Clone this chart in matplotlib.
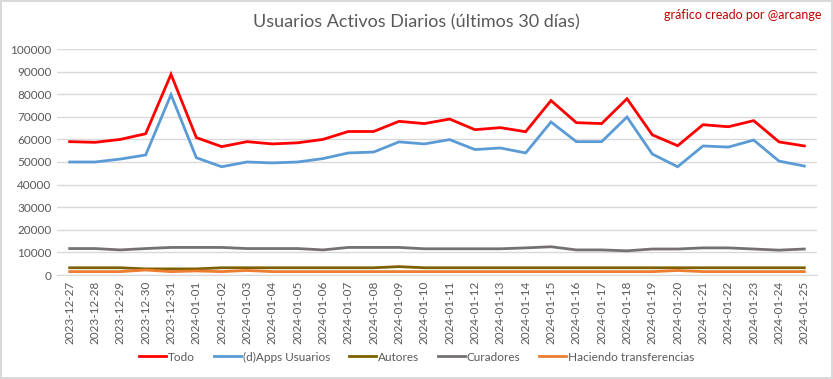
import matplotlib
matplotlib.use("Agg")
import matplotlib.pyplot as plt
import numpy as np

plt.rcParams['font.family'] = ['Lato', 'DejaVu Sans']

dates = ["2023-12-27", "2023-12-28", "2023-12-29", "2023-12-30", "2023-12-31",
         "2024-01-01", "2024-01-02", "2024-01-03", "2024-01-04", "2024-01-05",
         "2024-01-06", "2024-01-07", "2024-01-08", "2024-01-09", "2024-01-10",
         "2024-01-11", "2024-01-12", "2024-01-13", "2024-01-14", "2024-01-15",
         "2024-01-16", "2024-01-17", "2024-01-18", "2024-01-19", "2024-01-20",
         "2024-01-21", "2024-01-22", "2024-01-23", "2024-01-24", "2024-01-25"]

todo = [59000, 58700, 60000, 62500, 88800, 60800, 56800, 59000, 58000, 58500,
        60000, 63500, 63500, 68000, 67000, 69000, 64300, 65200, 63400, 77200,
        67400, 67000, 78000, 62000, 57200, 66500, 65600, 68300, 58900, 57100]
dapps = [50000, 50000, 51300, 53100, 79800, 51900, 47900, 50000, 49600, 50000,
         51500, 54000, 54400, 58900, 58000, 59900, 55500, 56200, 54000, 67700,
         59000, 59000, 69900, 53500, 47900, 57100, 56600, 59700, 50400, 48200]
autores = [3200, 3200, 3200, 2700, 2700, 2700, 3200, 3200, 3200, 3200,
           3200, 3200, 3200, 3700, 3200, 3200, 3200, 3200, 3200, 3200,
           3200, 3200, 3200, 3200, 3200, 3200, 3200, 3200, 3200, 3200]
curadores = [11700, 11700, 11100, 11700, 12200, 12200, 12200, 11700, 11700, 11700,
             11100, 12200, 12200, 12200, 11600, 11600, 11600, 11600, 12000, 12500,
             11100, 11100, 10700, 11500, 11500, 12000, 12000, 11500, 11000, 11500]
transferencias = [1500, 1500, 1500, 2200, 1500, 1800, 1500, 2000, 1500, 1500,
                  1500, 1500, 1500, 1500, 1500, 1500, 1500, 1500, 1500, 1500,
                  1500, 1500, 1500, 1500, 2000, 1500, 1500, 1500, 1500, 1500]

series = [
    ("Todo", todo, "#ff0000"),
    ("(d)Apps Usuarios", dapps, "#5b9bd5"),
    ("Autores", autores, "#7f6000"),
    ("Curadores", curadores, "#767171"),
    ("Haciendo transferencias", transferencias, "#ed7d31"),
]

fig = plt.figure(figsize=(8.33, 3.79), dpi=100)
fig.patch.set_facecolor("white")
fig.patch.set_edgecolor("#d9d9d9")
fig.patch.set_linewidth(1.5)

ax = fig.add_axes([57/833, 1-275/379, 760/833, 226/379])
x = np.arange(len(dates))
for name, vals, col in series:
    ax.plot(x, vals, color=col, lw=2, label=name, solid_joinstyle='miter')

ax.set_xlim(-0.5, len(dates) - 0.5)
ax.set_ylim(0, 100000)
ax.set_yticks(np.arange(0, 100001, 10000))
ax.set_yticklabels([str(v) for v in range(0, 100001, 10000)])
ax.set_xticks(x)
ax.set_xticklabels(dates, rotation=90)
ax.tick_params(axis='both', colors="#595959", labelsize=8.5, length=0, pad=4)
ax.grid(axis='y', color="#d9d9d9", lw=1)
ax.set_axisbelow(True)
for s in ["top", "right", "left"]:
    ax.spines[s].set_visible(False)
ax.spines["bottom"].set_color("#d9d9d9")

fig.text(0.5, 1-22/379, "Usuarios Activos Diarios (últimos 30 días)", ha="center", va="center",
         fontsize=13, color="#595959")
fig.text(822/833, 1-15/379, "gráfico creado por @arcange", ha="right", va="center",
         fontsize=9, color="#c00000")

fig.legend(loc="center", bbox_to_anchor=(0.5, 1-357/379), ncol=5, frameon=False,
           fontsize=8.5, labelcolor="#595959", handlelength=2.3, handletextpad=0.15,
           columnspacing=1.6)

fig.savefig("out.png", dpi=100)
